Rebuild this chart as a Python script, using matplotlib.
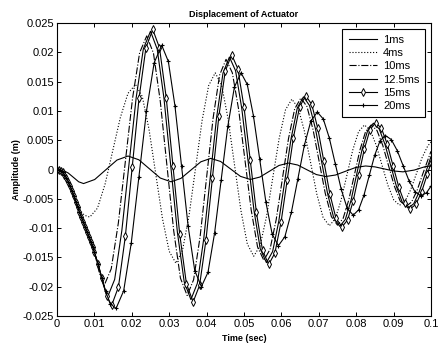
import matplotlib
matplotlib.use("Agg")
import matplotlib.pyplot as plt

plt.rcParams['font.family'] = ['Liberation Sans', 'DejaVu Sans']

# time in ms, amplitude in mm (converted to s and m when plotting)
t1 = [0,1.5,3,4.5,5.8, 7.1,10.08,13.05,16.03, 19.0,21.88,24.75,27.63, 30.5,33.15,35.8,38.45,
      41.1,43.75,46.4,49.05, 51.7,54.25,56.8,59.35, 61.9,64.38,66.85,69.33, 71.8,74.48,77.15,79.83,
      82.5,85.0,87.5,90.0, 92.5,95.5,98.5,100]
v1 = [0,-0.1,-0.6,-1.4,-2.1, -2.4,-1.71,-0.05,1.61, 2.3,1.66,0.1,-1.46, -2.1,-1.51,-0.1,1.31,
      1.9,1.37,0.1,-1.17, -1.7,-1.29,-0.3,0.69, 1.1,0.76,-0.05,-0.86, -1.2,-0.94,-0.3,0.34,
      0.6,0.45,0.1,-0.25, -0.4,-0.1,0.5,0.6]

t4 = [0,1,2,3,4,5,6,7,8, 8.8,10.83,12.87,14.9,16.93,18.97, 21.0,22.8,24.6,26.4,28.2,30.0,
      31.8,33.55,35.3,37.05,38.8,40.55, 42.3,44.02,45.73,47.45,49.17,50.88, 52.6,54.3,56.0,57.7,59.4,61.1,
      62.8,64.47,66.13,67.8,69.47,71.13, 72.8,74.37,75.93,77.5,79.07,80.63, 82.2,83.77,85.33,86.9,88.47,90.03,
      91.6,93.1,94.6,96.1,97.6,99.1,100]
v4 = [0,-0.2,-0.9,-2.1,-3.7,-5.4,-6.8,-7.6,-8.0, -8.1,-6.59,-2.45,3.2,8.85,12.99, 14.5,12.46,6.88,-0.75,-8.38,-13.96,
      -16.0,-13.82,-7.88,0.25,8.38,14.32, 16.5,14.4,8.68,0.85,-6.98,-12.7, -14.8,-13.0,-8.1,-1.4,5.3,10.2,
      12.0,10.55,6.6,1.2,-4.2,-8.15, -9.6,-8.45,-5.3,-1.0,3.3,6.45, 7.6,6.68,4.18,0.75,-2.68,-5.18,
      -6.1,-5.38,-3.4,-0.7,2.0,3.98,4.7]

t10 = [0,1,2,3,4,5,6,7,8,9,10,11.3, 12.6,14.5,16.4,18.3,20.2,22.1, 24.0,25.8,27.6,29.4,31.2,33.0,
       34.8,36.53,38.27,40.0,41.73,43.47, 45.2,46.88,48.57,50.25,51.93,53.62, 55.3,56.95,58.6,60.25,61.9,63.55,
       65.2,66.83,68.47,70.1,71.73,73.37, 75.0,76.5,78.0,79.5,81.0,82.5, 84.0,85.55,87.1,88.65,90.2,91.75,
       93.3,94.8,96.3,97.8,100]
v10 = [0,-0.2,-0.9,-2.1,-3.7,-5.5,-7.2,-8.9,-10.6,-12.3,-14.1,-17.6, -19.8,-16.95,-9.15,1.5,12.15,19.95,
       22.8,19.83,11.73,0.65,-10.43,-18.53, -21.5,-18.8,-11.43,-1.35,8.73,16.1, 18.8,16.5,10.23,1.65,-6.93,-13.2,
       -15.5,-13.64,-8.58,-1.65,5.28,10.34, 12.2,10.75,6.78,1.35,-4.08,-8.05, -9.5,-8.35,-5.23,-0.95,3.33,6.45,
       7.6,6.67,4.13,0.65,-2.83,-5.37, -6.3,-5.56,-3.53,-0.75,3.11]

t125 = [0,1,2,3,4,5,6,7,8,9,10,11,12.2, 13.5,15.42,17.33,19.25,21.17,23.08, 25.0,26.8,28.6,30.4,32.2,34.0,
        35.8,37.52,39.23,40.95,42.67,44.38, 46.1,47.75,49.4,51.05,52.7,54.35, 56.0,57.65,59.3,60.95,62.6,64.25,
        65.9,67.52,69.13,70.75,72.37,73.98, 75.6,77.1,78.6,80.1,81.6,83.1, 84.6,86.15,87.7,89.25,90.8,92.35,
        93.9,95.4,96.9,98.4,100]
v125 = [0,-0.2,-0.9,-2.1,-3.7,-5.5,-7.2,-8.9,-10.6,-12.3,-14.1,-16.2,-19.3, -21.8,-18.76,-10.45,0.9,12.25,20.56,
        23.6,20.53,12.15,0.7,-10.75,-19.13, -22.2,-19.43,-11.85,-1.5,8.85,16.43, 19.2,16.85,10.43,1.65,-7.13,-13.55,
        -15.9,-14.0,-8.83,-1.75,5.33,10.5, 12.4,10.92,6.88,1.35,-4.18,-8.22, -9.7,-8.52,-5.3,-0.9,3.5,6.72,
        7.9,6.93,4.28,0.65,-2.98,-5.63, -6.6,-5.83,-3.73,-0.85,2.2]

t15 = [0,0.5,1,1.5,2,2.5,3,3.5,4,4.5,5,5.5,6,6.5,7,7.5,8,8.5,9,9.5,10,11,12,13.3,
       14.6,16.43,18.27,20.1,21.93,23.77, 25.6,27.4,29.2,31.0,32.8,34.6,
       36.4,38.12,39.83,41.55,43.27,44.98, 46.7,48.35,50.0,51.65,53.3,54.95, 56.6,58.25,59.9,61.55,63.2,64.85,
       66.5,68.12,69.73,71.35,72.97,74.58, 76.2,77.7,79.2,80.7,82.2,83.7, 85.2,86.75,88.3,89.85,91.4,92.95,
       94.5,96.0,97.5,99.0,100]
v15 = [0,-0.05,-0.2,-0.5,-0.9,-1.45,-2.1,-2.9,-3.7,-4.6,-5.5,-6.35,-7.2,-8.05,-8.9,-9.75,-10.6,-11.45,-12.3,-13.2,
       -14.1,-16.2,-18.5,-21.6,
       -23.2,-20.04,-11.43,0.35,12.13,20.74,
       23.9,20.78,12.28,0.65,-10.98,-19.48, -22.6,-19.77,-12.05,-1.5,9.05,16.77, 19.6,17.2,10.65,1.7,-7.25,-13.8,
       -16.2,-14.27,-9.0,-1.8,5.4,10.67, 12.6,11.1,7.0,1.4,-4.2,-8.3, -9.8,-8.61,-5.35,-0.9,3.55,6.81,
       8.0,7.02,4.33,0.65,-3.03,-5.72, -6.7,-5.92,-3.78,-0.85,1.15]

t20 = [0,0.5,1,1.5,2,2.5,3,3.5,4,4.5,5,5.5,6,6.5,7,7.5,8,8.5,9,9.5,10,11,12,13,14.2,
       15.8,17.83,19.87,21.9,23.93,25.97, 28.0,29.77,31.53,33.3,35.07,36.83,
       38.6,40.37,42.13,43.9,45.67,47.43, 49.2,50.87,52.53,54.2,55.87,57.53, 59.2,60.93,62.67,64.4,66.13,67.87,
       69.6,71.2,72.8,74.4,76.0,77.6, 79.2,80.63,82.07,83.5,84.93,86.37, 87.8,89.38,90.97,92.55,94.13,95.72,
       97.3,98.8,100]
v20 = [0,-0.05,-0.2,-0.5,-0.9,-1.45,-2.1,-2.9,-3.7,-4.6,-5.5,-6.35,-7.2,-8.05,-8.9,-9.75,-10.6,-11.45,-12.3,-13.2,
       -14.1,-16.2,-18.5,-20.8,-22.9,
       -23.7,-20.69,-12.48,-1.25,9.98,18.19,
       21.2,18.44,10.9,0.6,-9.7,-17.24, -20.0,-17.55,-10.88,-1.75,7.38,14.05, 16.5,14.52,9.13,1.75,-5.63,-11.02,
       -13.0,-11.47,-7.3,-1.6,4.1,8.27, 9.8,8.62,5.4,1.0,-3.4,-6.62, -7.8,-6.89,-4.4,-1.0,2.4,4.89,
       5.8,5.11,3.23,0.65,-1.93,-3.81, -4.5,-3.96,-2.85]

labels = ['1ms', '4ms', '10ms', '12.5ms', '15ms', '20ms']
xticks = [0, 0.01, 0.02, 0.03, 0.04, 0.05, 0.06, 0.07, 0.08, 0.09, 0.1]
xticklabels = ['0', '0.01', '0.02', '0.03', '0.04', '0.05', '0.06', '0.07', '0.08', '0.09', '0.1']
yticks = [-0.025, -0.02, -0.015, -0.01, -0.005, 0, 0.005, 0.01, 0.015, 0.02, 0.025]
yticklabels = ['-0.025', '-0.02', '-0.015', '-0.01', '-0.005', '0', '0.005', '0.01', '0.015', '0.02', '0.025']


def s(t):
    return [x / 1000.0 for x in t]


fig = plt.figure(figsize=(4.4, 3.51), dpi=100)
ax = fig.add_axes([57 / 440, 35 / 351, 374 / 440, 293 / 351])

lw = 0.8
ax.plot(s(t1), s(v1), '-', color='k', lw=lw, label=labels[0])
ax.plot(s(t4), s(v4), ':', color='k', lw=lw, label=labels[1])
ax.plot(s(t10), s(v10), '-.', color='k', lw=lw, label=labels[2])
ax.plot(s(t125), s(v125), '-', color='k', lw=lw, label=labels[3])
ax.plot(s(t15), s(v15), '-', color='k', lw=lw, marker='d', ms=4, mfc='white', mec='k', mew=0.7,
        label=labels[4])
ax.plot(s(t20), s(v20), '-', color='k', lw=lw, marker='+', ms=3, mew=0.8, label=labels[5])

ax.set_xlim(0, 0.1)
ax.set_ylim(-0.025, 0.025)
ax.set_xticks(xticks)
ax.set_xticklabels(xticklabels)
ax.set_yticks(yticks)
ax.set_yticklabels(yticklabels)
ax.tick_params(direction='in', top=True, right=True, labelsize=8, length=3, width=0.7, pad=2)
for sp in ax.spines.values():
    sp.set_linewidth(0.8)

ax.set_title('Displacement of Actuator', fontsize=6.5, fontweight='bold', pad=4)
ax.set_xlabel('Time (sec)', fontsize=6.5, fontweight='bold', labelpad=4)
ax.set_ylabel('Amplitude (m)', fontsize=6.5, fontweight='bold', labelpad=1)

leg = ax.legend(loc='upper right', fontsize=8, frameon=True, fancybox=False, framealpha=1,
                edgecolor='k', handlelength=2.6, borderpad=0.55, labelspacing=0.3, handletextpad=0.5,
                borderaxespad=0.5)
leg.get_frame().set_linewidth(0.8)

fig.savefig('out.png', dpi=100)
